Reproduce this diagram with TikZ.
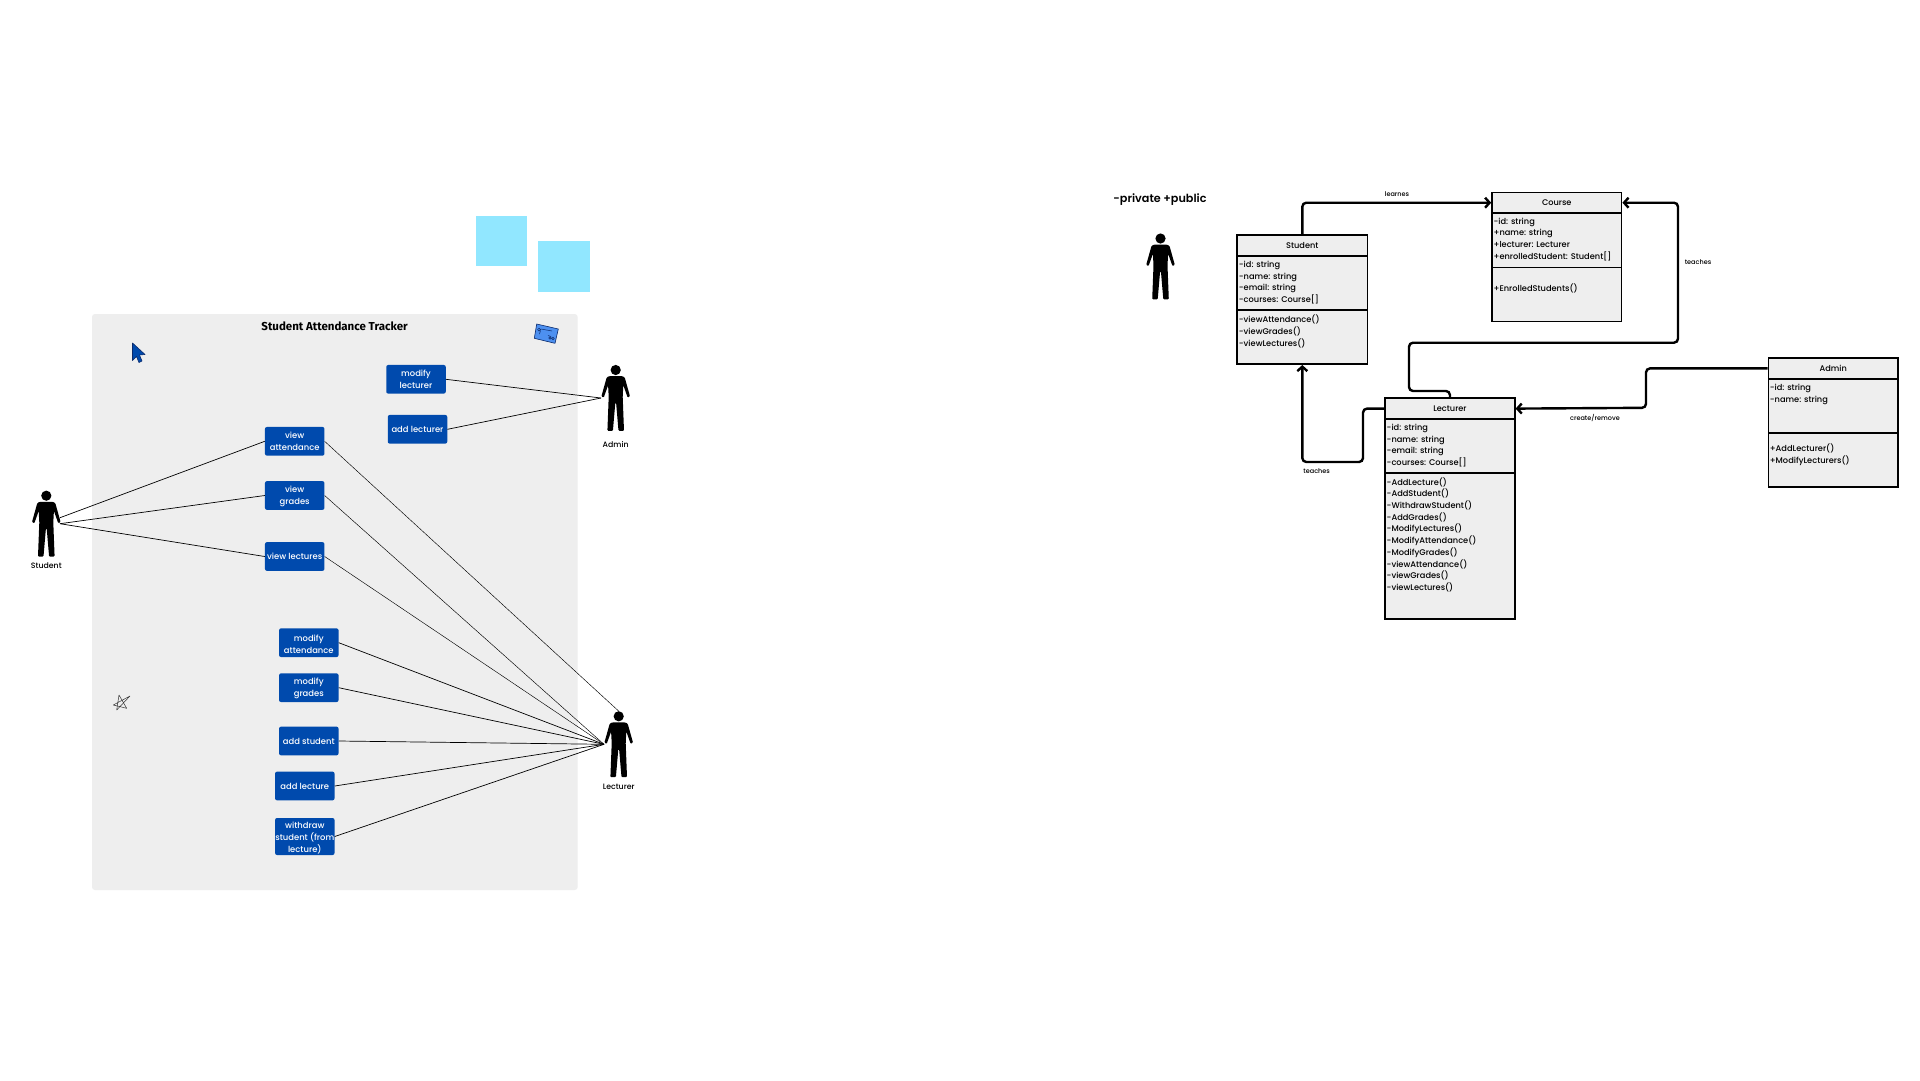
\documentclass[tikz,border=0pt]{standalone}
\usepackage{fontspec}
\setmainfont{Poppins SemiBold}
\newfontfamily\titlefont{Fira Sans}
\newfontfamily\labelfont{Poppins Medium}
\usetikzlibrary{arrows.meta}
\definecolor{panelgray}{HTML}{EEEEEE}
\definecolor{sticky}{HTML}{91E7FF}
\definecolor{ucblue}{HTML}{004AAD}
\definecolor{cardblue}{HTML}{4D90F0}
\definecolor{navyline}{HTML}{0B2A6B}
\newcommand\lowerfirst{\rule{0pt}{8.8pt}}
\tikzset{
  ucbox/.style={fill=ucblue,rounded corners=2pt,text=white,align=center,inner sep=0pt,minimum width=59.5pt,minimum height=28.7pt,font=\labelfont\fontsize{8.4}{12}\selectfont},
  assoc/.style={draw=black,line width=0.7pt},
  assocthin/.style={draw=black,line width=0.45pt},
  actorbox/.style={inner sep=0pt,minimum width=29pt,minimum height=66pt},
  actorlabel/.style={inner sep=0pt,font=\labelfont\fontsize{7.8}{9}\selectfont},
  part/.style={draw=black,line width=1.8pt,fill=panelgray,anchor=north west,inner sep=0pt,font=\labelfont\fontsize{8.2}{11.7}\selectfont},
  umltext/.style={anchor=north west,inner sep=0pt,align=left,font=\labelfont\fontsize{8.25}{11.7}\selectfont},
  link/.style={draw=black,line width=2.4pt,rounded corners=4pt,-{Straight Barb[length=4.5pt,width=10pt]}},
  linklabel/.style={inner sep=0pt,font=\labelfont\fontsize{6.5}{8}\selectfont},
  pics/actor/.style={code={
    \fill (0,5.2) circle (5.1);
    \fill[rounded corners=0.9pt] (-6.5,11.3) -- (6.5,11.3) -- (9,12.6) -- (14.3,31.5) -- (12,32.8) -- (7.6,20.5) -- (7,32) -- (8.3,66) -- (2.8,66) -- (0.4,38) -- (-0.4,38) -- (-2.8,66) -- (-8.3,66) -- (-7,32) -- (-7.6,20.5) -- (-12,32.8) -- (-14.3,31.5) -- (-9,12.6) -- cycle;
  }}
}
\begin{document}
\begin{tikzpicture}[x=1pt,y=-1pt]
\useasboundingbox (0,0) rectangle (1920,1080);
\fill[white] (0,0) rectangle (1920,1080);
% stickies
\fill[sticky] (475.6,215.7) rectangle (527,266);
\fill[sticky] (538,241) rectangle (590,292);
% panel
\fill[panelgray,rounded corners=3pt] (92,314) rectangle (577.7,890);
\node[inner sep=0pt,font=\titlefont\bfseries\fontsize{11.5}{13}\selectfont] (title) at (334.6,326.3) {Student Attendance Tracker};
% decorations
\filldraw[fill=ucblue,draw=navyline,line width=0.6pt,line join=round] (132.5,343) -- (145,354.5) -- (139.5,355) -- (142,361) -- (139,362.5) -- (136.5,356.5) -- (132.5,360.5) -- cycle;
\filldraw[fill=cardblue,draw=navyline,line width=0.6pt,line join=round] (536.7,324) -- (558.3,329) -- (555,343.3) -- (534.3,338.3) -- cycle;
\draw[navyline,line width=0.5pt] (539,329.5) circle (1.4) (541,329) -- (552,331) (539.5,334) -- (540.5,330.5) (548,335.5) -- (551,336.5);
\draw[navyline,line width=0.5pt] (550,338) circle (1.3) (553,338.5) circle (1.3);
\draw[black!80,line width=0.5pt,line join=round] (113.3,705) -- (130,696) -- (116.7,710) -- (119,695) -- (126.7,708.3) -- cycle;
% use cases
\node[ucbox] (modlec) at (416,379.3) {modify\\lecturer};
\node[ucbox] (addlec) at (417.5,429.3) {add lecturer};
\node[ucbox] (viewatt) at (294.7,441.3) {view\\attendance};
\node[ucbox] (viewgr) at (294.7,495.5) {\lowerfirst view\\grades};
\node[ucbox] (viewlc) at (294.7,556.5) {view lectures};
\node[ucbox] (modatt) at (308.8,642.7) {\lowerfirst modify\\attendance};
\node[ucbox] (modgr) at (308.8,687.7) {\lowerfirst modify\\grades};
\node[ucbox] (addst) at (308.8,741) {add student};
\node[ucbox] (addlcr) at (304.8,786) {add lecture};
\node[ucbox,minimum height=37pt] (withd) at (304.8,836.5) {\lowerfirst withdraw\\student (from\\lecture)};
% actors
\node[actorbox] (student) at (46.3,523.7) {};
\node[actorbox] (admin) at (615.7,398) {};
\node[actorbox] (lecturer) at (618.7,744.3) {};
\node[actorbox] (person) at (1160.5,266.5) {};
\pic at (student.north) {actor};
\pic at (admin.north) {actor};
\pic at (lecturer.north) {actor};
\pic at (person.north) {actor};
\node[actorlabel] (lblstu) at (46.3,565.8) {Student};
\node[actorlabel] (lbladm) at (615.7,444.8) {Admin};
\node[actorlabel] (lbllec) at (618.7,786.8) {Lecturer};
% associations
\draw[assoc] ([xshift=-1pt,yshift=6pt]student.east) -- (viewatt.west);
\draw[assoc] ([xshift=-1pt]student.east) -- (viewgr.west);
\draw[assoc] ([xshift=-1pt]student.east) -- (viewlc.west);
\draw[assoc] (admin.west) -- (modlec.east);
\draw[assoc] (admin.west) -- (addlec.east);
\draw[assocthin] (viewatt.east) -- (lecturer.north);
\draw[assocthin] (viewgr.east) -- (lecturer.west);
\draw[assocthin] (viewlc.east) -- (lecturer.west);
\draw[assoc] (modatt.east) -- (lecturer.west);
\draw[assoc] (modgr.east) -- (lecturer.west);
\draw[assoc] (addst.east) -- (lecturer.west);
\draw[assoc] (addlcr.east) -- (lecturer.west);
\draw[assoc] (withd.east) -- (lecturer.west);
% legend
\node[inner sep=0pt,font=\fontsize{11.2}{13}\selectfont] (legend) at (1160,199.6) {-private +public};
% Student class
\node[part,minimum width=130.2pt,minimum height=21pt] (stuH) at (1236.3,234) {Student};
\node[part,minimum width=130.2pt,minimum height=54.2pt] (stuA) at (1236.3,255) {};
\node[part,minimum width=130.2pt,minimum height=54pt] (stuO) at (1236.3,309.2) {};
\node[umltext] (stuAt) at (1238.7,261) {-id: string\\-name: string\\-email: string\\-courses: Course[]};
\node[umltext] (stuOt) at (1238.7,315) {-viewAttendance()\\-viewGrades()\\-viewLectures()};
% Course class
\node[part,minimum width=129.4pt,minimum height=20.6pt] (crsH) at (1491.2,191.5) {Course};
\node[part,minimum width=129.4pt,minimum height=54.4pt] (crsA) at (1491.2,212.1) {};
\node[part,minimum width=129.4pt,minimum height=54pt] (crsO) at (1491.2,266.5) {};
\node[umltext] (crsAt) at (1493.4,217.5) {-id: string\\+name: string\\+lecturer: Lecturer\\+enrolledStudent: Student[]};
\node[umltext] (crsOt) at (1493.4,283.8) {+EnrolledStudents()};
% Lecturer class
\node[part,minimum width=129.5pt,minimum height=21pt] (lecH) at (1384.3,397.2) {Lecturer};
\node[part,minimum width=129.5pt,minimum height=54pt] (lecA) at (1384.3,418.2) {};
\node[part,minimum width=129.5pt,minimum height=146pt] (lecO) at (1384.3,472.2) {};
\node[umltext] (lecAt) at (1386.5,424) {-id: string\\-name: string\\-email: string\\-courses: Course[]};
\node[umltext] (lecOt) at (1386.5,477.2) {-AddLecture()\\-AddStudent()\\-WithdrawStudent()\\-AddGrades()\\-ModifyLectures()\\-ModifyAttendance()\\-ModifyGrades()\\-viewAttendance()\\-viewGrades()\\-viewLectures()};
% Admin class
\node[part,minimum width=129.6pt,minimum height=21pt] (admH) at (1767.6,357) {Admin};
\node[part,minimum width=129.6pt,minimum height=54pt] (admA) at (1767.6,378) {};
\node[part,minimum width=129.6pt,minimum height=54pt] (admO) at (1767.6,432) {};
\node[umltext] (admAt) at (1769.6,384.3) {-id: string\\-name: string};
\node[umltext] (admOt) at (1769.6,443.6) {+AddLecturer()\\+ModifyLecturers()};
% relations
\draw[link] (stuH.north) |- (crsH.west);
\draw[link] (lecH.north) |- (1409,391) |- (1678,342.7) |- (crsH.east);
\draw[link] (lecH.west) -| (1363,462) -| (stuO.south);
\draw[link] (admH.west) -| (1646,407.8) -- (lecH.east);
\node[linklabel] (lbl1) at (1397,194.3) {learnes};
\node[linklabel] (lbl2) at (1698,262.5) {teaches};
\node[linklabel] (lbl3) at (1316.7,471.3) {teaches};
\node[linklabel] (lbl4) at (1595,417.7) {create/remove};
\end{tikzpicture}
\end{document}
